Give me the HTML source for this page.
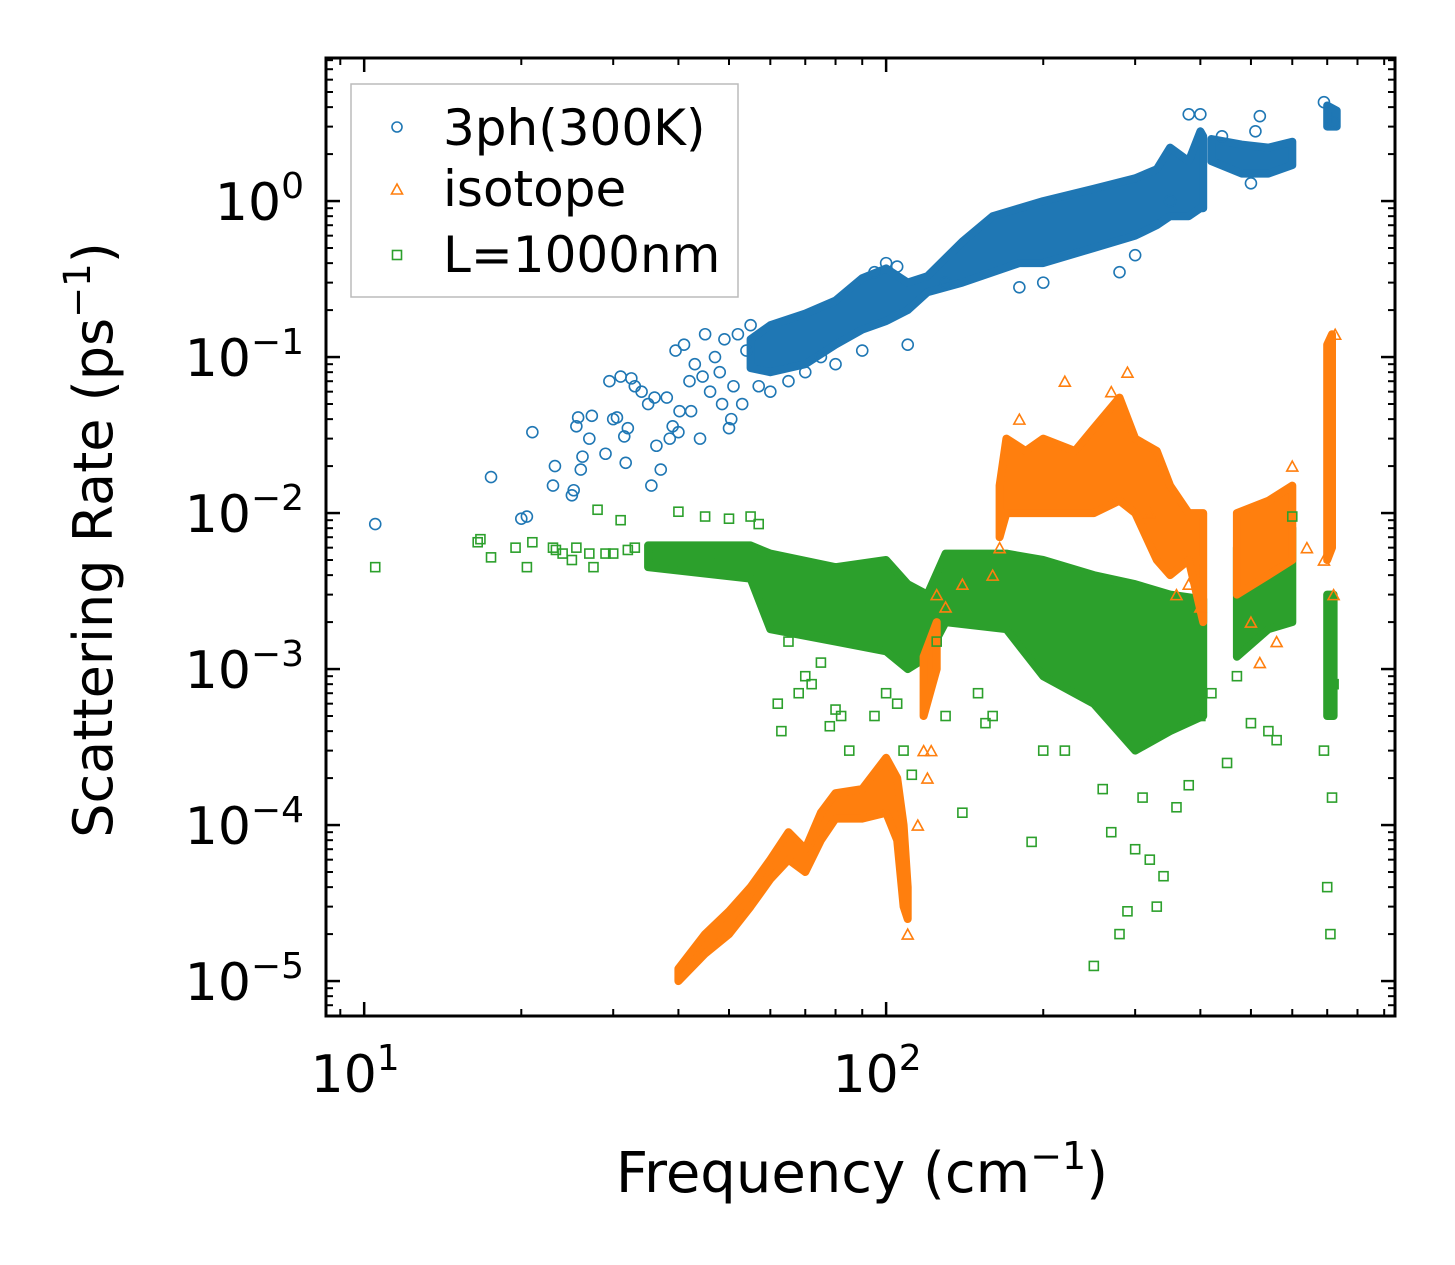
<!DOCTYPE html>
<html><head><meta charset="utf-8"><style>
html,body{margin:0;padding:0;background:#fff;}
svg{display:block;font-family:"DejaVu Sans","Liberation Sans",sans-serif;}
</style></head><body>
<svg id="chart" width="1455" height="1265" viewBox="0 0 1455 1265" xmlns="http://www.w3.org/2000/svg">
<rect width="1455" height="1265" fill="#fff"/>
<g id="bands"></g>
<g id="pts"></g>
<g id="axes"></g>
<rect x="326" y="58" width="1069" height="958" fill="none" stroke="#000" stroke-width="3"/>
<text transform="translate(112,540) rotate(-90)" text-anchor="middle" font-size="54">Scattering Rate (ps<tspan font-size="37" dy="-22">−1</tspan><tspan dy="22">)</tspan></text>
<text x="862" y="1192" text-anchor="middle" font-size="56">Frequency (cm<tspan font-size="38" dy="-23">−1</tspan><tspan dy="23">)</tspan></text>
<g>
<rect x="351" y="84" width="387" height="213" fill="#fff" fill-opacity="0.85" stroke="#bbb" stroke-width="1.5"/>
<circle cx="397" cy="127" r="5" fill="none" stroke="#1f77b4" stroke-width="1.6"/>
<text x="443" y="145" font-size="50">3ph(300K)</text>
<path d="M397,184 L402.5,194 L391.5,194 Z" fill="none" stroke="#ff7f0e" stroke-width="1.6"/>
<text x="443" y="206" font-size="50">isotope</text>
<rect x="392.5" y="250.5" width="9" height="9" fill="none" stroke="#2ca02c" stroke-width="1.6"/>
<text x="443" y="272" font-size="50">L=1000nm</text>
</g>
</svg>
<script>
// Band data: [frequency, lower rate, upper rate]
const blueBands = [
 [[55,0.085,0.13],[60,0.08,0.16],[70,0.09,0.19],[80,0.12,0.23],[90,0.15,0.32],[100,0.17,0.37],[110,0.2,0.3],[120,0.26,0.33],[140,0.3,0.55],[160,0.35,0.8],[180,0.4,0.9],[200,0.4,1.0],[250,0.5,1.2],[300,0.6,1.4],[330,0.7,1.6],[350,0.8,2.2],[380,0.8,1.8],[400,0.9,2.8],[405,0.9,2.6]],
 [[420,1.8,2.5],[480,1.5,2.3],[540,1.5,2.2],[600,1.7,2.4]],
 [[700,3.0,4.1],[730,3.0,3.8]]
];
const orangeBands = [
 [[40,0.00001,0.000012],[45,0.000015,0.00002],[50,0.00002,0.000028],[55,0.00003,0.00004],[60,0.000045,0.00006],[65,0.00006,0.00009],[70,0.00005,0.00007],[75,0.00008,0.00012],[80,0.00011,0.00016],[90,0.00011,0.00017],[100,0.00012,0.00027],[105,0.00008,0.0002],[108,0.00003,0.0001],[110,0.000025,0.00004]],
 [[118,0.0005,0.0012],[125,0.001,0.002]],
 [[165,0.007,0.015],[170,0.01,0.03],[185,0.01,0.025],[200,0.01,0.03],[230,0.01,0.025],[250,0.01,0.035],[280,0.012,0.055],[300,0.01,0.03],[330,0.005,0.025],[350,0.004,0.015],[380,0.005,0.01],[405,0.002,0.01]],
 [[470,0.003,0.01],[540,0.004,0.012],[600,0.005,0.015]],
 [[700,0.005,0.12],[715,0.006,0.14]]
];
const greenBands = [
 [[35,0.0045,0.0062],[55,0.0038,0.0062],[60,0.0018,0.0055],[80,0.0015,0.0045],[100,0.0013,0.005],[110,0.001,0.0035],[120,0.0012,0.003],[130,0.002,0.0055],[170,0.0018,0.0055],[200,0.0009,0.005],[250,0.0006,0.004],[300,0.0003,0.0035],[350,0.0004,0.003],[405,0.0005,0.0028]],
 [[470,0.0012,0.006],[540,0.0018,0.007],[600,0.002,0.008]],
 [[700,0.0005,0.003],[720,0.0005,0.003]]
];
// Scattered points: frequency and rate arrays
const blueX = [10.5,17.5,20,20.5,21,23,23.2,25,25.2,25.5,25.7,26,26.2,27,27.3,29,29.5,30,30.5,31,31.5,31.7,32,32.5,33,34,35,35.5,36,36.3,37,38,38.5,39,39.5,40,40.2,41,42,42.3,43,44,44.5,45,46,47,48,48.5,49,50,50.5,51,52,53,54,55,57,60,65,70,75,80,90,95,100,105,110,130,180,200,280,300,350,380,400,440,500,510,520,690,720];
const blueY = [0.0085,0.017,0.0092,0.0095,0.033,0.015,0.02,0.013,0.014,0.036,0.041,0.019,0.023,0.03,0.042,0.024,0.07,0.04,0.041,0.075,0.031,0.021,0.035,0.073,0.065,0.06,0.05,0.015,0.055,0.027,0.019,0.055,0.03,0.036,0.11,0.033,0.045,0.12,0.07,0.045,0.09,0.03,0.075,0.14,0.06,0.1,0.08,0.05,0.13,0.035,0.04,0.065,0.14,0.05,0.11,0.16,0.065,0.06,0.07,0.08,0.1,0.09,0.11,0.35,0.4,0.38,0.12,0.3,0.28,0.3,0.35,0.45,1.0,3.6,3.6,2.6,1.3,2.8,3.5,4.3,3.2];
const orangeX = [110,115,118,120,122,125,130,140,160,165,180,220,270,290,320,360,380,400,500,520,560,600,640,690,720,725];
const orangeY = [0.00002,0.0001,0.0003,0.0002,0.0003,0.003,0.0025,0.0035,0.004,0.006,0.04,0.07,0.06,0.08,0.01,0.003,0.0035,0.0025,0.002,0.0011,0.0015,0.02,0.006,0.005,0.003,0.14];
const greenX = [10.5,16.5,16.7,17.5,19.5,20.5,21,23,23.3,24,25,25.5,27,27.5,28,29,30,31,32,33,36,40,45,48,50,55,57,58,60,62,63,65,68,70,72,75,78,80,82,85,90,95,100,105,108,112,125,130,140,150,155,160,190,200,220,250,260,270,280,290,300,310,320,330,340,360,380,400,420,450,470,500,540,560,600,690,700,710,715,720];
const greenY = [0.0045,0.0065,0.0068,0.0052,0.006,0.0045,0.0065,0.006,0.0058,0.0055,0.005,0.006,0.0055,0.0045,0.0105,0.0055,0.0055,0.009,0.0058,0.006,0.0053,0.0102,0.0095,0.0055,0.0092,0.0095,0.0085,0.0045,0.0028,0.0006,0.0004,0.0015,0.0007,0.0009,0.0008,0.0011,0.00043,0.00055,0.0005,0.0003,0.0025,0.0005,0.0007,0.0006,0.0003,0.00021,0.0015,0.0005,0.00012,0.0007,0.00045,0.0005,0.000078,0.0003,0.0003,0.0000125,0.00017,0.00009,0.00002,0.000028,0.00007,0.00015,0.00006,0.00003,0.000047,0.00013,0.00018,0.0005,0.0007,0.00025,0.0009,0.00045,0.0004,0.00035,0.0095,0.0003,0.00004,0.00002,0.00015,0.0008];
const xTicks = [10,100];
const xTickLabels = ["1","2"];
const yTicks = [1,0.1,0.01,0.001,0.0001,0.00001];
const yTickLabels = ["0","−1","−2","−3","−4","−5"];

const NS="http://www.w3.org/2000/svg";
const X0=326,X1=1395,Y0=58,Y1=1016;
const xLogMin=Math.log10(8.45), xLogMax=Math.log10(944);
const yLogMin=-5.224, yLogMax=0.917;
function xs(v){return X0+(Math.log10(v)-xLogMin)/(xLogMax-xLogMin)*(X1-X0);}
function ys(v){return Y1-(Math.log10(v)-yLogMin)/(yLogMax-yLogMin)*(Y1-Y0);}
function mk(tag,attrs,parent){const e=document.createElementNS(NS,tag);for(const k in attrs)e.setAttribute(k,attrs[k]);parent.appendChild(e);return e;}

const bandG=document.getElementById('bands');
function drawBands(bands,color,name){
  bands.forEach(function(b){
    const top=b.map(p=>xs(p[0]).toFixed(1)+','+ys(p[2]).toFixed(1));
    const bot=b.slice().reverse().map(p=>xs(p[0]).toFixed(1)+','+ys(p[1]).toFixed(1));
    const e=mk('polygon',{points:top.concat(bot).join(' '),fill:color,stroke:color,'stroke-width':8,'stroke-linejoin':'round'},bandG);
    
    
  });
}
drawBands(greenBands,'#2ca02c','boundary-cloud');
drawBands(orangeBands,'#ff7f0e','isotope-cloud');
drawBands(blueBands,'#1f77b4','3ph-cloud');

const ptG=document.getElementById('pts');
for(let i=0;i<greenX.length;i++){
  const x=xs(greenX[i]),y=ys(greenY[i]);
  const e=mk('rect',{x:x-4.5,y:y-4.5,width:9,height:9,fill:'none',stroke:'#2ca02c','stroke-width':1.6},ptG);
  
  
}
for(let i=0;i<orangeX.length;i++){
  const x=xs(orangeX[i]),y=ys(orangeY[i]);
  const e=mk('path',{d:'M'+x+','+(y-5)+' L'+(x+5.5)+','+(y+5)+' L'+(x-5.5)+','+(y+5)+' Z',fill:'none',stroke:'#ff7f0e','stroke-width':1.6},ptG);
  
  
}
for(let i=0;i<blueX.length;i++){
  const e=mk('circle',{cx:xs(blueX[i]),cy:ys(blueY[i]),r:5.5,fill:'none',stroke:'#1f77b4','stroke-width':1.6},ptG);
  
  
}

const ax=document.getElementById('axes');
function tick(x1,y1,x2,y2,w){const e=mk('line',{x1:x1,y1:y1,x2:x2,y2:y2,stroke:'#000','stroke-width':w},ax);}
for(let e10=0;e10<3;e10++){
  for(let m=1;m<10;m++){
    const v=m*Math.pow(10,e10);
    const x=xs(v); if(x<X0||x>X1) continue;
    const L=m===1?14:7, w=m===1?2.5:2;
    tick(x,Y1,x,Y1-L,w); tick(x,Y0,x,Y0+L,w);
  }
}
for(let e10=-6;e10<1;e10++){
  for(let m=1;m<10;m++){
    const v=m*Math.pow(10,e10);
    const y=ys(v); if(y<Y0||y>Y1) continue;
    const L=m===1?14:7, w=m===1?2.5:2;
    tick(X0,y,X0+L,y,w); tick(X1,y,X1-L,y,w);
  }
}
xTicks.forEach(function(v,i){
  const t=mk('text',{x:xs(v)-9,y:1092,'text-anchor':'middle','font-size':52},ax);
  
  
  t.appendChild(document.createTextNode('10'));
  const s=mk('tspan',{'font-size':36,dy:-22},t); s.textContent=xTickLabels[i];
});
yTicks.forEach(function(v,i){
  const t=mk('text',{x:304,y:ys(v)+19,'text-anchor':'end','font-size':52},ax);
  
  
  t.appendChild(document.createTextNode('10'));
  const s=mk('tspan',{'font-size':36,dy:-22},t); s.textContent=yTickLabels[i];
});
</script>
</body></html>
